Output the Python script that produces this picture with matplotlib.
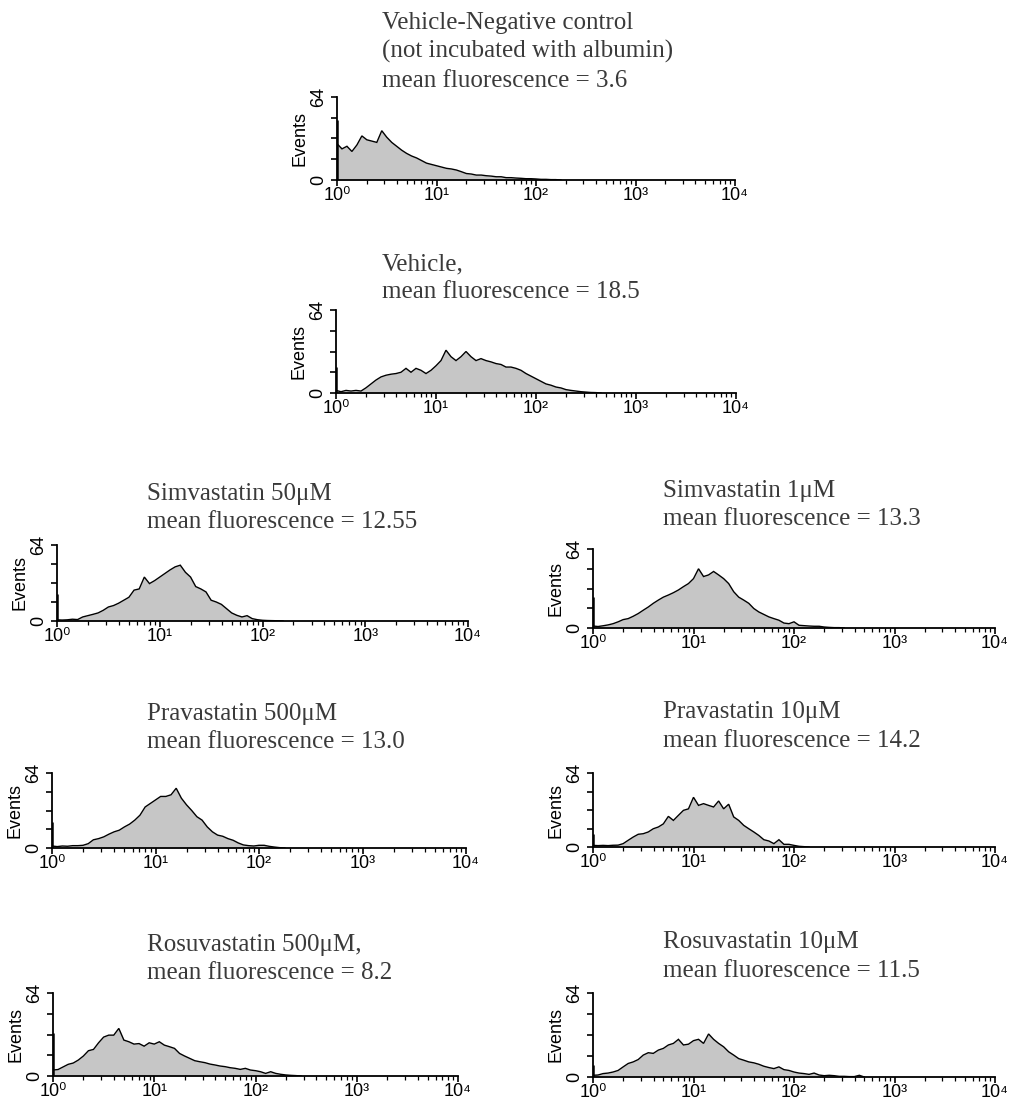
import numpy as np
import matplotlib
matplotlib.use("Agg")
import matplotlib.pyplot as plt

plt.rcParams['font.family'] = ['Liberation Sans', 'DejaVu Sans']

# ---------------- data (counts per log-channel, log10 step 0.05 from 10^0) ----------------
LOG_STEP = 0.05

title_lines = [
    ["Vehicle-Negative control", "(not incubated with albumin)", "mean fluorescence = 3.6"],
    ["Vehicle,", "mean fluorescence = 18.5"],
    ["Simvastatin 50μM", "mean fluorescence = 12.55"],
    ["Simvastatin 1μM", "mean fluorescence = 13.3"],
    ["Pravastatin 500μM", "mean fluorescence = 13.0"],
    ["Pravastatin 10μM", "mean fluorescence = 14.2"],
    ["Rosuvastatin 500μM,", "mean fluorescence = 8.2"],
    ["Rosuvastatin 10μM", "mean fluorescence = 11.5"],
]

first_channel = [46, 20, 23, 25, 22, 11.5, 33, 9]

counts_neg_ctrl = [28, 24, 26, 22, 27, 34, 31, 30, 29, 38, 33, 29, 26, 23, 20.5, 18.5, 17, 15,
                   13, 12, 11, 10, 9, 8.5, 7.7, 6.4, 5, 4.6, 3.8, 3.8, 3.3, 3, 2.5, 2.5, 1.8,
                   1.8, 1.5, 1.3, 1, 1, 0.8, 0.5, 0.5, 0.3, 0.3]
counts_vehicle = [2, 1, 2, 1.5, 2, 1.5, 4, 7, 10, 12.4, 13.7, 14.5, 15, 16, 19, 16, 19, 17.5, 15,
                  17.5, 21, 25, 33, 28, 25, 28, 32, 28, 25, 26.5, 25, 24, 22.7, 22, 20, 20, 19,
                  17.5, 15, 13, 11, 9, 7, 6, 4.6, 3.9, 2.6, 2, 1.5, 1, 0.7, 0.4, 0.3]
counts_simva50 = [1, 0.8, 1, 1.5, 1.2, 3.4, 4.5, 5.6, 6.8, 9, 11.8, 13, 15, 17.5, 20, 26, 27, 37,
                  31.5, 34, 37, 40, 43, 45.6, 47, 41, 37, 29, 27, 24.5, 17.5, 16, 14, 10.4, 6.8,
                  4.8, 3.4, 4.5, 2, 1.1, 0.6, 0.4, 0.3, 0.2]
counts_simva1 = [1.6, 1.2, 1.8, 2.5, 3.5, 5, 6.8, 7.6, 9.5, 11.7, 14.4, 17, 20, 22.6, 25, 26.7,
                 28.6, 30.8, 33.5, 36, 40, 48, 41.7, 43, 45.8, 43, 40, 36, 29.4, 25, 22.6, 20,
                 15.8, 13, 11, 9, 7.6, 6.3, 4, 3.5, 5, 2.2, 1.9, 1.6, 1.4, 1.4, 0.8, 0.5, 0.3, 0.3]
counts_prava500 = [1.7, 1.2, 1.7, 1.5, 2, 2, 2.3, 3.7, 7, 8, 9.5, 11.8, 13.8, 15.2, 18, 20.4,
                   23.8, 28, 35, 38, 41, 44, 44, 45.4, 51, 42.5, 36.8, 32, 26.7, 23.8, 18, 13.8,
                   11, 10, 8, 6.6, 4.3, 2.6, 2, 1.7, 2.3, 2.3, 1.4, 0.8, 0.3]
counts_prava10 = [1.4, 1.2, 1.4, 1.2, 1.5, 1.6, 2.9, 5.8, 8.6, 11, 11.5, 13, 15.8, 17.3, 20, 26.5,
                  23, 27.4, 31.7, 33, 43, 36, 37.5, 36, 34.6, 39.8, 33, 37, 26, 23, 18.7, 15.8,
                  13, 10, 6.3, 5.2, 2.9, 6.3, 2.3, 2.3, 1.4, 0.6, 0.3]
counts_rosuva500 = [4.6, 5, 7, 9, 10, 12.3, 15.4, 19.5, 20.5, 25.6, 30, 31.5, 31.5, 36.7, 27.7,
                    26.4, 24.6, 25, 23, 25.6, 24.6, 26.4, 23.8, 22.6, 21.3, 17.4, 15.4, 13.6,
                    11.8, 11, 10.3, 9.2, 8.5, 7.7, 7.2, 6.4, 5.9, 5.1, 5.9, 4.6, 4.1, 3.3, 2,
                    3.3, 2, 1.3, 0.8, 0.5, 0.3]
counts_rosuva10 = [1.3, 1.5, 2.6, 3, 3.8, 5, 7.7, 10.3, 11.5, 13.3, 16.7, 18.5, 18, 20.5, 21.8,
                   24.4, 25.6, 28.7, 24.4, 25, 27.7, 28.7, 25.6, 32.8, 28.7, 25.6, 23, 19.2,
                   16.7, 14, 12.8, 11.5, 10.8, 9.7, 8.2, 7.2, 6.4, 7.7, 5.6, 5, 3.8, 3, 2.6, 2,
                   3, 1.5, 1, 1.3, 1, 0.5, 0.5, 0.3, 0.3, 1.3]

all_counts = [counts_neg_ctrl, counts_vehicle, counts_simva50, counts_simva1,
              counts_prava500, counts_prava10, counts_rosuva500, counts_rosuva10]

x_tick_values = [1, 10, 100, 1000, 10000]
x_tick_labels = ["10⁰", "10¹", "10²", "10³", "10⁴"]
y_tick_values = [0, 16, 32, 48, 64]
y_tick_labels = ["0", "", "", "", "64"]

# ---------------- layout (pixels) ----------------
W, H = 1016, 1100
# left, right, top, bottom of each axes
axes_px = [
    (337, 735, 97, 180),
    (336, 736, 310, 393),
    (57, 468, 545, 621),
    (593, 995, 549, 628),
    (52, 466, 773, 848),
    (593, 995, 773, 847),
    (53, 458, 993, 1076),
    (593, 995, 993, 1077),
]
# left x and baselines of title lines
text_px = [
    (382, [29, 58, 87]),
    (382, [270, 298]),
    (147, [500, 528]),
    (663, [497, 525]),
    (147, [720, 748]),
    (663, [718, 747]),
    (147, [951, 979]),
    (663, [948, 977]),
]

FILL = '#c6c6c6'
TEXT_COLOR = '#3a3a3a'

fig = plt.figure(figsize=(W / 100, H / 100), dpi=100)

for i in range(8):
    l, r, t, b = axes_px[i]
    ax = fig.add_axes([l / W, 1 - b / H, (r - l) / W, (b - t) / H])
    vals = np.asarray(all_counts[i], dtype=float)
    n = len(vals)
    logc = LOG_STEP * np.arange(n + 1)
    xs = 10 ** logc
    ys = np.append(vals, 0.0)
    ax.fill_between(xs, 0, ys, color=FILL, lw=0)
    ax.plot(xs, ys, color='black', lw=1.0, solid_joinstyle='miter')
    ax.vlines(10 ** 0.004, 0, first_channel[i], color='black', lw=1.8)

    ax.set_xscale('log')
    ax.set_xlim(1, 1e4)
    ax.set_ylim(0, 64)
    for s in ('top', 'right'):
        ax.spines[s].set_visible(False)
    for s in ('left', 'bottom'):
        ax.spines[s].set_linewidth(1.3)
    ax.set_xticks(x_tick_values)
    ax.set_xticklabels(x_tick_labels)
    ax.xaxis.set_minor_locator(matplotlib.ticker.LogLocator(base=10, subs=np.arange(2, 10)))
    ax.xaxis.set_minor_formatter(matplotlib.ticker.NullFormatter())
    ax.set_yticks(y_tick_values)
    ax.set_yticklabels(y_tick_labels)
    ax.tick_params(axis='x', which='major', direction='out', length=4, width=1.2,
                   labelsize=13, pad=1)
    ax.tick_params(axis='x', which='minor', direction='out', length=3, width=0.9)
    ax.tick_params(axis='y', which='major', direction='out', length=4, width=1.2,
                   labelsize=13, pad=3)
    for lab in ax.get_yticklabels():
        lab.set_rotation(90)
        lab.set_va('center')
    ax.set_ylabel("Events", fontsize=13, labelpad=1)

    tx, baselines = text_px[i]
    for line, yb in zip(title_lines[i], baselines):
        fig.text(tx / W, 1 - yb / H, line, ha='left', va='baseline', fontsize=18,
                 family=['Liberation Serif', 'DejaVu Serif'], color=TEXT_COLOR)

fig.savefig('out.png', dpi=100)
